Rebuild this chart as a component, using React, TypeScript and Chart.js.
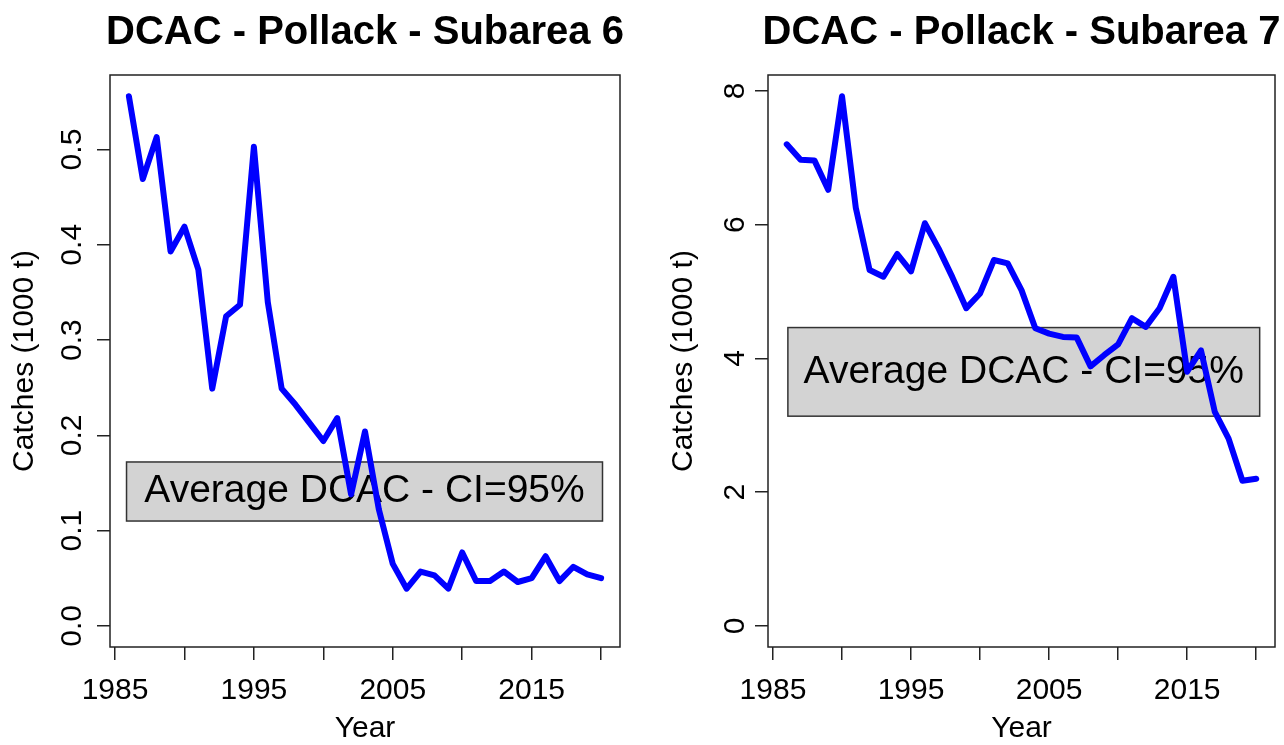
import React, { useEffect, useRef } from "react";
import { Chart, registerables } from "chart.js";

Chart.register(...registerables);

// ---- data ----
const years = [
  1986, 1987, 1988, 1989, 1990, 1991, 1992, 1993, 1994, 1995,
  1996, 1997, 1998, 1999, 2000, 2001, 2002, 2003, 2004, 2005,
  2006, 2007, 2008, 2009, 2010, 2011, 2012, 2013, 2014, 2015,
  2016, 2017, 2018, 2019, 2020,
];
const catchesSubarea6 = [
  0.556, 0.469, 0.513, 0.393, 0.419, 0.374, 0.249, 0.325, 0.337, 0.503,
  0.34, 0.249, 0.232, 0.213, 0.194, 0.218, 0.138, 0.204, 0.122, 0.065,
  0.039, 0.057, 0.053, 0.039, 0.077, 0.047, 0.047, 0.057, 0.046, 0.05,
  0.073, 0.047, 0.062, 0.054, 0.05,
];
const catchesSubarea7 = [
  7.2, 6.97, 6.96, 6.52, 7.92, 6.25, 5.32, 5.22, 5.56, 5.3,
  6.02, 5.64, 5.21, 4.75, 4.97, 5.47, 5.42, 5.02, 4.45, 4.37,
  4.32, 4.31, 3.88, 4.05, 4.21, 4.6, 4.47, 4.75, 5.22, 3.8,
  4.12, 3.2, 2.8, 2.17, 2.2,
];
const xTickValues = [1985, 1990, 1995, 2000, 2005, 2010, 2015, 2020];
const xTickLabels = ["1985", "", "1995", "", "2005", "", "2015", ""];
const yTicks6 = [0, 0.1, 0.2, 0.3, 0.4, 0.5];
const yTickLabels6 = ["0.0", "0.1", "0.2", "0.3", "0.4", "0.5"];
const yTicks7 = [0, 2, 4, 6, 8];
const yTickLabels7 = ["0", "2", "4", "6", "8"];
const titles = ["DCAC - Pollack - Subarea 6", "DCAC - Pollack - Subarea 7"];
const legendText = "Average DCAC - CI=95%";
const xAxisTitle = "Year";
const yAxisTitle = "Catches (1000 t)";

const FONT = '"Liberation Sans", Arial, sans-serif';

function rangeWithPad(lo: number, hi: number) {
  const p = (hi - lo) * 0.04;
  return [lo - p, hi + p];
}

const panelPlugin = {
  id: "panelDecor",
  beforeDatasetsDraw(chart: any, _args: any, opts: any) {
    const { ctx, scales } = chart;
    const x = scales.x;
    const y = scales.y;
    const L = x.getPixelForValue(opts.box.x0);
    const R = x.getPixelForValue(opts.box.x1);
    const T = y.getPixelForValue(opts.box.y1);
    const B = y.getPixelForValue(opts.box.y0);
    ctx.save();
    ctx.fillStyle = "#D3D3D3";
    ctx.fillRect(L, T, R - L, B - T);
    ctx.strokeStyle = "#333333";
    ctx.lineWidth = 1.5;
    ctx.strokeRect(L, T, R - L, B - T);
    ctx.fillStyle = "#000000";
    ctx.font = `39px ${FONT}`;
    ctx.textAlign = "center";
    ctx.textBaseline = "middle";
    ctx.fillText(opts.legendText, (L + R) / 2, (T + B) / 2);
    ctx.restore();
  },
  afterDraw(chart: any, _args: any, opts: any) {
    const { ctx, chartArea: a } = chart;
    ctx.save();
    ctx.strokeStyle = "#222222";
    ctx.lineWidth = 1.5;
    ctx.strokeRect(a.left, a.top, a.right - a.left, a.bottom - a.top);
    ctx.fillStyle = "#000000";
    ctx.font = `bold 40px ${FONT}`;
    ctx.textAlign = "center";
    ctx.textBaseline = "alphabetic";
    ctx.fillText(opts.title, (a.left + a.right) / 2, a.top - 31);
    ctx.restore();
  },
};

type PanelProps = {
  values: number[];
  yTicks: number[];
  yTickLabels: string[];
  title: string;
  box: { x0: number; x1: number; y0: number; y1: number };
  yAxisWidth: number;
  rightPad: number;
  yLabelPad: number;
  yTitlePad: number;
};

function Panel(props: PanelProps) {
  const ref = useRef<HTMLCanvasElement | null>(null);
  useEffect(() => {
    if (!ref.current) return;
    const [xmin, xmax] = rangeWithPad(Math.min(...years), Math.max(...years));
    const [ymin, ymax] = rangeWithPad(0, Math.max(...props.values));
    const tickFont = { family: FONT, size: 30 };
    const chart = new Chart(ref.current, {
      type: "line",
      data: {
        datasets: [
          {
            data: years.map((yr, i) => ({ x: yr, y: props.values[i] })),
            borderColor: "#0000FF",
            borderWidth: 6,
            pointRadius: 0,
            tension: 0,
            borderJoinStyle: "round",
            borderCapStyle: "round",
          },
        ],
      },
      options: {
        responsive: false,
        animation: false,
        devicePixelRatio: 1,
        layout: { padding: { left: 0, top: 75, right: props.rightPad, bottom: 0 } },
        plugins: {
          legend: { display: false },
          tooltip: { enabled: false },
          panelDecor: { title: props.title, box: props.box, legendText },
        } as any,
        scales: {
          x: {
            type: "linear",
            min: xmin,
            max: xmax,
            afterBuildTicks: (s: any) => {
              s.ticks = xTickValues.map((v) => ({ value: v }));
            },
            afterFit: (s: any) => {
              s.height = 98;
            },
            ticks: {
              autoSkip: false,
              maxRotation: 0,
              minRotation: 0,
              padding: 13,
              color: "#000",
              font: tickFont,
              callback: (v: any) => {
                const i = xTickValues.indexOf(Number(v));
                return i >= 0 ? xTickLabels[i] : "";
              },
            },
            grid: {
              drawOnChartArea: false,
              drawTicks: true,
              tickLength: 13,
              color: "#222",
              lineWidth: 1.5,
            },
            border: { display: false },
            title: {
              display: true,
              text: xAxisTitle,
              color: "#000",
              font: { family: FONT, size: 30 },
              padding: { top: 0, bottom: -2 },
            },
          },
          y: {
            type: "linear",
            min: ymin,
            max: ymax,
            afterBuildTicks: (s: any) => {
              s.ticks = props.yTicks.map((v) => ({ value: v }));
            },
            afterFit: (s: any) => {
              s.width = props.yAxisWidth;
            },
            ticks: {
              autoSkip: false,
              minRotation: 90,
              maxRotation: 90,
              crossAlign: "center",
              padding: props.yLabelPad,
              color: "#000",
              font: tickFont,
              callback: (v: any) => {
                const i = props.yTicks.findIndex((t) => Math.abs(t - Number(v)) < 1e-9);
                return i >= 0 ? props.yTickLabels[i] : "";
              },
            },
            grid: {
              drawOnChartArea: false,
              drawTicks: true,
              tickLength: 13,
              color: "#222",
              lineWidth: 1.5,
            },
            border: { display: false },
            title: {
              display: true,
              text: yAxisTitle,
              color: "#000",
              font: { family: FONT, size: 30 },
              padding: { top: props.yTitlePad, bottom: 0 },
            },
          },
        },
      } as any,
      plugins: [panelPlugin],
    });
    return () => chart.destroy();
  }, []);
  return <canvas ref={ref} width={642} height={745} style={{ display: "block", width: 642, height: 745 }} />;
}

export default function App() {
  return (
    <div
      style={{
        position: "fixed",
        left: 0,
        top: 0,
        width: 1284,
        height: 745,
        background: "#ffffff",
        display: "flex",
        flexDirection: "row",
      }}
    >
      <Panel
        values={catchesSubarea6}
        yTicks={yTicks6}
        yTickLabels={yTickLabels6}
        title={titles[0]}
        box={{ x0: 1985.83, x1: 2020.1, y0: 0.11, y1: 0.172 }}
        yAxisWidth={110}
        rightPad={22}
        yLabelPad={3}
        yTitlePad={7}
      />
      <Panel
        values={catchesSubarea7}
        yTicks={yTicks7}
        yTickLabels={yTickLabels7}
        title={titles[1]}
        box={{ x0: 1986.08, x1: 2020.25, y0: 3.135, y1: 4.46 }}
        yAxisWidth={126}
        rightPad={9}
        yLabelPad={11}
        yTitlePad={24}
      />
    </div>
  );
}
